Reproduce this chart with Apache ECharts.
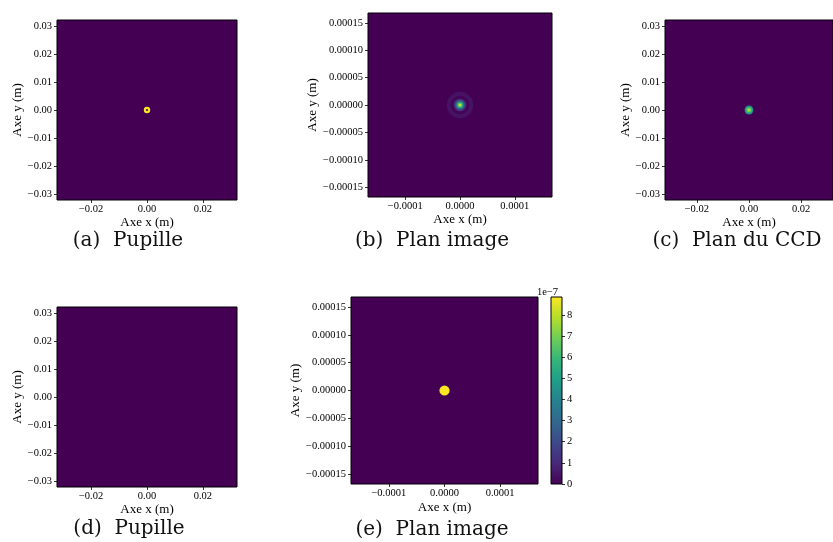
<!DOCTYPE html>
<html>
<head>
<meta charset="utf-8">
<script src="https://cdn.jsdelivr.net/npm/echarts@6/dist/echarts.min.js"></script>
<style>
  html, body { margin: 0; padding: 0; background: #fff; }
  #chart { width: 833px; height: 542px; }
</style>
</head>
<body>
<div id="chart"></div>
<script>
// Each intensity map is a stack of concentric discs centred on the optical axis,
// given as [radius (m), level], from the outermost disc inwards.
const spotCentre = [0, 0];
const pupilA = [[0.00115, 1.0], [0.0004, 0.03]];
const imageB = [[2.4e-5, 0.05], [1.7e-5, 0.01], [1.15e-5, 0.14], [8.5e-6, 0.32],
                [6e-6, 0.58], [3.8e-6, 0.8], [2e-6, 0.95]];
const ccdC = [[0.0017, 0.45], [0.0013, 0.62], [0.0009, 0.76], [0.0005, 0.88]];
const pupilD = [];
const imageE = [[9.2e-6, 8.85]];          // in units of 1e-7

// Axis extents and tick labels
const pupilExtent = 0.0322;
const imageExtent = 0.000168;
const pupilYTicks = [-0.03, -0.02, -0.01, 0, 0.01, 0.02, 0.03];
const pupilXTicks = [-0.02, 0, 0.02];
const imageYTicks = [-0.00015, -0.0001, -0.00005, 0, 0.00005, 0.0001, 0.00015];
const imageXTicks = [-0.0001, 0, 0.0001];
const cbarTicks = [0, 1, 2, 3, 4, 5, 6, 7, 8];
const cbarMax = 8.85;
const cbarExponent = '1e\u22127';

const captions = ['(a)  Pupille', '(b)  Plan image', '(c)  Plan du CCD', '(d)  Pupille', '(e)  Plan image'];

const viridis = ['#440154', '#482878', '#3e4989', '#31688e', '#26828e',
                 '#1f9e89', '#35b779', '#6ece58', '#b5de2b', '#fde725'];

const SERIF = '"Liberation Serif", "Times New Roman", serif';
const CAPTION_FONT = '"DejaVu Serif", serif';

// Panel layout (pixels)
const panels = [
  { left: 57,  top: 20,  size: 180, ext: pupilExtent, xt: pupilXTicks, yt: pupilYTicks, xd: 2, yd: 2, spots: pupilA, cap: [128, 241], xg: 15, yg: 30 },
  { left: 368, top: 13,  size: 184, ext: imageExtent, xt: imageXTicks, yt: imageYTicks, xd: 4, yd: 5, spots: imageB, cap: [432, 241], xg: 15, yg: 44 },
  { left: 665, top: 20,  size: 180, ext: pupilExtent, xt: pupilXTicks, yt: pupilYTicks, xd: 2, yd: 2, spots: ccdC,   cap: [737, 241], xg: 15, yg: 30 },
  { left: 57,  top: 307, size: 180, ext: pupilExtent, xt: pupilXTicks, yt: pupilYTicks, xd: 2, yd: 2, spots: pupilD, cap: [129, 529], xg: 15, yg: 30 },
  { left: 351, top: 297, size: 187, ext: imageExtent, xt: imageXTicks, yt: imageYTicks, xd: 4, yd: 5, spots: imageE, cap: [432, 530], xg: 17, yg: 46 }
];

const fmt = d => v => v.toFixed(d).replace('-', '\u2212');

const tickLabel = { color: '#000', fontFamily: SERIF, fontSize: 10.5 };
const nameStyle = { color: '#000', fontFamily: SERIF, fontSize: 13 };

const grids = [], xAxes = [], yAxes = [], series = [];

panels.forEach((p, i) => {
  grids.push({
    left: p.left, top: p.top, width: p.size, height: p.size,
    show: true, backgroundColor: viridis[0], borderColor: '#000', borderWidth: 1
  });
  xAxes.push({
    type: 'value', gridIndex: i, min: -p.ext, max: p.ext,
    axisLine: { show: false, onZero: false },
    splitLine: { show: false },
    axisTick: { show: true, length: 3, customValues: p.xt, lineStyle: { color: '#000', width: 0.8 } },
    axisLabel: Object.assign({ customValues: p.xt, formatter: fmt(p.xd), margin: 4 }, tickLabel),
    name: 'Axe x (m)', nameLocation: 'middle', nameGap: p.xg, nameTextStyle: nameStyle
  });
  yAxes.push({
    type: 'value', gridIndex: i, min: -p.ext, max: p.ext,
    axisLine: { show: false, onZero: false },
    splitLine: { show: false },
    axisTick: { show: true, length: 3, customValues: p.yt, lineStyle: { color: '#000', width: 0.8 } },
    axisLabel: Object.assign({ customValues: p.yt, formatter: fmt(p.yd), margin: 5 }, tickLabel),
    name: 'Axe y (m)', nameLocation: 'middle', nameGap: p.yg, nameTextStyle: nameStyle
  });
  series.push({
    type: 'custom', coordinateSystem: 'cartesian2d', xAxisIndex: i, yAxisIndex: i,
    silent: true, animation: false,
    data: p.spots.map(([r, v]) => [spotCentre[0], spotCentre[1], r, v]),
    encode: { x: 0, y: 1 },
    renderItem: (params, api) => {
      const c = api.coord([api.value(0), api.value(1)]);
      const rad = Math.abs(api.size([api.value(2), 0])[0]);
      return { type: 'circle', shape: { cx: c[0], cy: c[1], r: rad },
               style: { fill: api.visual('color') } };
    }
  });
});

// Colour bar of panel (e)
const cb = grids.length;
grids.push({ left: 551, top: 297, width: 11, height: 187, show: false });
xAxes.push({ type: 'value', gridIndex: cb, min: 0, max: 1, show: false });
yAxes.push({
  type: 'value', gridIndex: cb, min: 0, max: cbarMax, position: 'right',
  axisLine: { show: false, onZero: false }, splitLine: { show: false },
  axisTick: { show: true, length: 3, customValues: cbarTicks, lineStyle: { color: '#000', width: 0.8 } },
  axisLabel: Object.assign({ customValues: cbarTicks, formatter: fmt(0), margin: 5 }, tickLabel)
});
series.push({
  type: 'custom', coordinateSystem: 'cartesian2d', xAxisIndex: cb, yAxisIndex: cb,
  silent: true, animation: false,
  data: [[0, 1, 0, cbarMax]],
  renderItem: (params, api) => {
    const p0 = api.coord([api.value(0), api.value(2)]);
    const p1 = api.coord([api.value(1), api.value(3)]);
    return {
      type: 'rect',
      shape: { x: p0[0], y: p1[1], width: p1[0] - p0[0], height: p0[1] - p1[1] },
      style: {
        fill: new echarts.graphic.LinearGradient(0, 1, 0, 0,
          viridis.map((c, k) => ({ offset: k / (viridis.length - 1), color: c }))),
        stroke: '#000', lineWidth: 1
      }
    };
  }
});

const graphics = panels.map((p, i) => ({
  type: 'text', x: p.cap[0], y: p.cap[1],
  style: { text: captions[i], fill: '#111', font: '20px ' + CAPTION_FONT,
           textAlign: 'center', textVerticalAlign: 'middle' }
}));
graphics.push({
  type: 'text', x: 537, y: 292,
  style: { text: cbarExponent, fill: '#000', font: '10.5px ' + SERIF, textAlign: 'left', textVerticalAlign: 'middle' }
});

const chart = echarts.init(document.getElementById('chart'), null, { renderer: 'canvas' });
chart.setOption({
  animation: false,
  backgroundColor: '#fff',
  grid: grids, xAxis: xAxes, yAxis: yAxes, series: series,
  visualMap: [
    { type: 'continuous', show: false, min: 0, max: 1, dimension: 3, seriesIndex: [0, 1, 2, 3],
      inRange: { color: viridis } },
    { type: 'continuous', show: false, min: 0, max: cbarMax, dimension: 3, seriesIndex: [4],
      inRange: { color: viridis } }
  ],
  graphic: graphics
});
</script>
</body>
</html>
